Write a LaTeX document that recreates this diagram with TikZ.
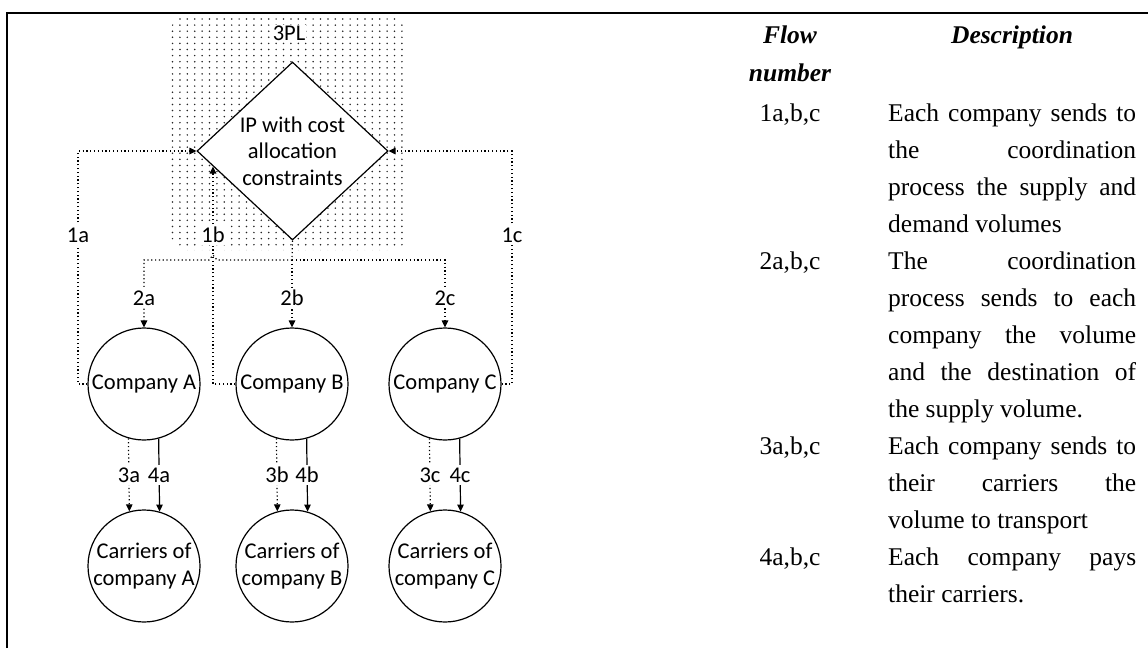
\documentclass[tikz,border=0pt]{standalone}
\usepackage{fontspec}
\setmainfont{Liberation Serif}
\newfontfamily\diagfont{Carlito}
\usetikzlibrary{arrows.meta,shapes.geometric,calc}
\begin{document}
\begin{tikzpicture}[x=1pt,y=-1pt,
  dfont/.style={font=\diagfont\fontsize{22.5}{26.5}\selectfont},
  flow/.style={line width=1.2pt, dash pattern=on 1.2pt off 2.6pt},
  solidline/.style={line width=1.2pt},
  arr/.style={-{Triangle[length=7pt,width=6.5pt]}},
  circnode/.style={circle, draw, line width=1.2pt, minimum size=112pt, inner sep=0pt, align=center, dfont},
  lab/.style={fill=white, inner sep=2.5pt, dfont},
  tfont/.style={font=\fontsize{25.5}{30}\selectfont, inner sep=0pt},
  hdr/.style={font=\bfseries\itshape\fontsize{25.5}{30}\selectfont, inner sep=0pt, anchor=base},
  num/.style={tfont, anchor=base},
  dsc/.style={tfont, anchor=base west}]
\useasboundingbox (0,0) rectangle (1148,648);
% frame
\draw[line width=1.8pt] (6.9,648) -- (6.9,12.9) -- (1148,12.9);
% dotted 3PL area
\begin{scope}
\clip[rounded corners=16pt] (170,17) rectangle (408,250);
\foreach \i in {0,...,32} {
  \foreach \j in {0,...,38} {
    \fill[black!85] (172.5+\i*7.4, 19+\j*6.1) circle (0.85pt);
  }
}
\end{scope}
\node[dfont, fill=white, inner sep=1pt] (tpl) at (289,33) {3PL};
% diamond
\node[diamond, draw, fill=white, line width=1.2pt, minimum width=191pt, minimum height=178pt,
      inner sep=0pt, aspect=1.07, align=center, dfont] (ip) at (292.5,151) {IP with cost\\allocation\\constraints};
% companies
\node[circnode] (cA) at (144,384) {Company A};
\node[circnode] (cB) at (292,384) {Company B};
\node[circnode] (cC) at (445,384) {Company C};
% carriers
\node[circnode] (kA) at (144,566) {Carriers of\\company A};
\node[circnode] (kB) at (292,566) {Carriers of\\company B};
\node[circnode] (kC) at (445,566) {Carriers of\\company C};
% flows 1
\coordinate (a1) at (78,384);
\coordinate (c1) at (512,384);
\coordinate (b1) at (213,384);
\coordinate (b1e) at ($(ip.west)!0.173!(ip.south)$);
\draw[flow,arr] (cA.west) -- (a1) |- (ip.west);
\draw[flow,arr] (cC.east) -- (c1) |- (ip.east);
\draw[flow,arr] (cB.west) -- (b1) -- (b1 |- b1e);
% flows 2
\coordinate (bus) at (292,260);
\coordinate (hr) at (217,260);
\coordinate (ht) at (213,255);
\coordinate (hl) at (209,260);
\draw[flow] (ip.south) -- (bus);
\draw[flow,arr] (bus) -- (hr) -- (ht) -- (hl) -| (cA.north);
\draw[flow,arr] (bus) -- (cB.north);
\draw[flow,arr] (bus) -| (cC.north);
% flows 3 and 4
\draw[flow,arr] (cA.254.5) -- (kA.105.5);
\draw[solidline,arr] (cA.285.5) -- (kA.74.5);
\draw[flow,arr] (cB.254.5) -- (kB.105.5);
\draw[solidline,arr] (cB.285.5) -- (kB.74.5);
\draw[flow,arr] (cC.254.5) -- (kC.105.5);
\draw[solidline,arr] (cC.285.5) -- (kC.74.5);
% labels
\node[lab] (l1a) at (78,235) {1a};
\node[lab] (l1b) at (213,235) {1b};
\node[lab] (l1c) at (512,235) {1c};
\node[lab] (l2a) at (144,298) {2a};
\node[lab] (l2b) at (292,298) {2b};
\node[lab] (l2c) at (445,298) {2c};
\node[lab] (l3a) at (129,475) {3a};
\node[lab] (l4a) at (159,475) {4a};
\node[lab] (l3b) at (277,475) {3b};
\node[lab] (l4b) at (307,475) {4b};
\node[lab] (l3c) at (430,475) {3c};
\node[lab] (l4c) at (460,475) {4c};
% table
\node[hdr] (hflow) at (790,43) {Flow};
\node[hdr] (hnum) at (790,81) {number};
\node[hdr] (hdesc) at (1012,43) {Description};
\node[num] (n1) at (790,121) {1a,b,c};
\node[num] (n2) at (790,269) {2a,b,c};
\node[num] (n3) at (790,454) {3a,b,c};
\node[num] (n4) at (790,565) {4a,b,c};
\node[dsc] (d0) at (888,121) {\makebox[248pt][s]{Each company sends to}};
\node[dsc] (d1) at (888,158) {\makebox[248pt][s]{the coordination}};
\node[dsc] (d2) at (888,195) {\makebox[248pt][s]{process the supply and}};
\node[dsc] (d3) at (888,232) {demand volumes};
\node[dsc] (d4) at (888,269) {\makebox[248pt][s]{The coordination}};
\node[dsc] (d5) at (888,306) {\makebox[248pt][s]{process sends to each}};
\node[dsc] (d6) at (888,343) {\makebox[248pt][s]{company the volume}};
\node[dsc] (d7) at (888,380) {\makebox[248pt][s]{and the destination of}};
\node[dsc] (d8) at (888,417) {the supply volume.};
\node[dsc] (d9) at (888,454) {\makebox[248pt][s]{Each company sends to}};
\node[dsc] (d10) at (888,491) {\makebox[248pt][s]{their carriers the}};
\node[dsc] (d11) at (888,528) {volume to transport};
\node[dsc] (d12) at (888,565) {\makebox[248pt][s]{Each company pays}};
\node[dsc] (d13) at (888,602) {their carriers.};
\end{tikzpicture}
\end{document}
